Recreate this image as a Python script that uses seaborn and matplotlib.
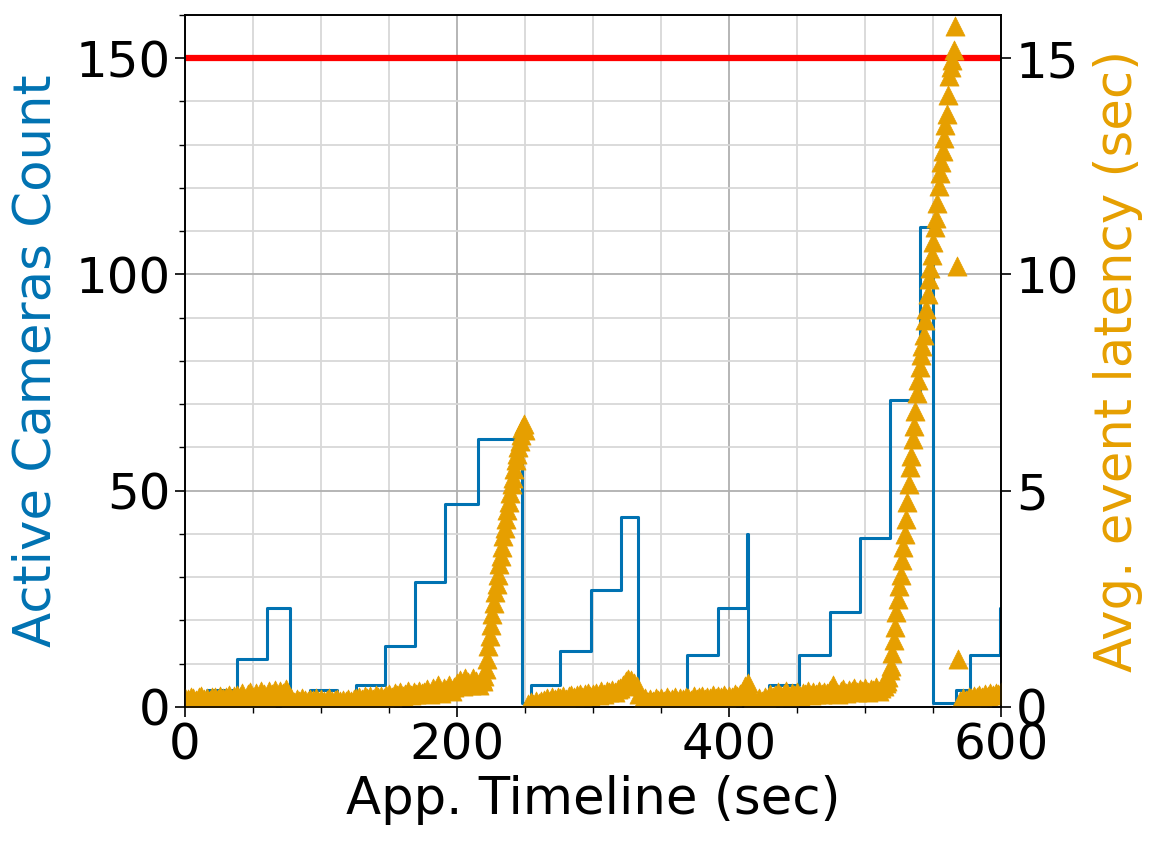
import numpy as np
import pandas as pd
import matplotlib
matplotlib.use("Agg")
import matplotlib.pyplot as plt
import seaborn as sns
from matplotlib.ticker import MultipleLocator

# -------------------------------
# Active cameras (step changes)
# -------------------------------
cam_time = [0, 16, 38, 60, 77, 92, 112, 126, 147, 169, 191, 215, 247.6, 254,
            276, 298.5, 320.5, 333, 369, 391.5, 413, 414, 429, 451, 474, 496,
            518, 540, 550, 567, 577, 599, 600]
cam_count = [1, 4, 11, 23, 1, 4, 1, 5, 14, 29, 47, 62, 1, 5,
             13, 27, 44, 3, 12, 23, 40, 1, 5, 12, 22, 39,
             71, 111, 1, 4, 12, 23, 23]

# -------------------------------
# Avg. event latency samples
# -------------------------------
base1_time = np.arange(0, 219, 2)
base1_lat = [0.2, 0.18, 0.24, 0.2, 0.16, 0.22, 0.25, 0.19, 0.21, 0.17,
             0.24, 0.22, 0.18, 0.26, 0.2, 0.23, 0.27, 0.19, 0.25,
             0.28, 0.22, 0.32, 0.18, 0.3, 0.35, 0.24, 0.33, 0.2, 0.38,
             0.29, 0.15, 0.36, 0.31, 0.4, 0.22, 0.37, 0.33, 0.42, 0.3,
             0.2, 0.12, 0.18, 0.15, 0.2, 0.17, 0.14, 0.19, 0.16, 0.2,
             0.13, 0.18, 0.15, 0.17, 0.2, 0.14, 0.16, 0.18, 0.13, 0.17,
             0.15, 0.19, 0.14, 0.18,
             0.2, 0.24, 0.18, 0.26, 0.21, 0.25, 0.19, 0.27, 0.22, 0.25, 0.2, 0.28,
             0.3, 0.24, 0.33, 0.27, 0.35, 0.26, 0.31, 0.36, 0.28, 0.34, 0.3, 0.37, 0.32,
             0.35, 0.42, 0.3, 0.45, 0.38, 0.5, 0.33, 0.44, 0.4, 0.52, 0.36, 0.47,
             0.55, 0.62, 0.48, 0.66, 0.58, 0.52, 0.68, 0.6, 0.5, 0.64]

spike1_time = np.arange(219, 251)
spike1_lat = [0.6, 0.72, 0.88, 1.1, 1.4, 1.65, 1.9, 2.15, 2.4, 2.65, 2.85,
              3.05, 3.3, 3.5, 3.7, 3.95, 4.15, 4.35, 4.55, 4.75, 4.95, 5.15,
              5.3, 5.5, 5.7, 5.85, 6.0, 6.15, 6.3, 6.45, 6.55, 6.4]

base2_time = np.arange(252, 515, 2)
base2_lat = [0.08, 0.12, 0.06, 0.14, 0.1, 0.15,
             0.16, 0.2, 0.14, 0.22, 0.18, 0.24, 0.2, 0.26, 0.19, 0.25,
             0.28, 0.22, 0.27, 0.3, 0.24, 0.29, 0.32, 0.26, 0.31,
             0.33, 0.28, 0.36, 0.3, 0.38, 0.34, 0.4, 0.35, 0.42,
             0.45, 0.52, 0.6, 0.65, 0.62, 0.55, 0.48,
             0.3, 0.15, 0.2, 0.12, 0.18, 0.14, 0.2,
             0.16, 0.2, 0.14, 0.22, 0.17, 0.19, 0.24, 0.15, 0.21, 0.18,
             0.23, 0.2, 0.16, 0.25, 0.19, 0.22, 0.26, 0.18, 0.24, 0.21,
             0.27, 0.2, 0.25, 0.23, 0.28, 0.21, 0.26, 0.24, 0.29, 0.25,
             0.3, 0.38, 0.48, 0.55,
             0.12, 0.18, 0.1, 0.2, 0.15, 0.22, 0.17,
             0.3, 0.22, 0.28, 0.34, 0.25, 0.3, 0.36, 0.24, 0.32, 0.28,
             0.35, 0.26, 0.33, 0.3, 0.37, 0.27, 0.34, 0.31, 0.38, 0.29, 0.35,
             0.32, 0.4, 0.5, 0.36, 0.3, 0.38, 0.42, 0.33, 0.4, 0.36,
             0.44, 0.34, 0.41, 0.38, 0.45, 0.35, 0.42, 0.4, 0.46, 0.38, 0.44, 0.48]

spike2_time = np.arange(515, 567)
spike2_lat = [0.55, 0.6, 0.7, 0.85, 0.95, 1.25, 1.55, 1.85, 2.2, 2.5,
              2.8, 3.05, 3.4, 3.7, 4.0, 4.35, 4.75, 5.15, 5.55, 5.8,
              6.2, 6.5, 6.85, 7.25, 7.55, 7.85, 8.15, 8.35, 8.6, 8.95,
              9.2, 9.55, 9.9, 10.15, 10.45, 10.75, 11.1, 11.3, 11.65, 12.05,
              12.35, 12.6, 12.85, 13.15, 13.45, 13.7, 14.15, 14.6, 14.8, 14.95,
              15.2, 15.75]

outlier_time = [567.6, 568.2]
outlier_lat = [10.2, 1.1]

base3_time = np.arange(570, 601, 2)
base3_lat = [0.15, 0.2, 0.17, 0.24, 0.2, 0.26, 0.22, 0.28, 0.24, 0.3,
             0.26, 0.32, 0.28, 0.33, 0.3, 0.34]

CAM_COLOR = "#0072B2"
LAT_COLOR = "#E69F00"

lat_df = pd.concat([
    pd.DataFrame({"time": base1_time, "latency": base1_lat}),
    pd.DataFrame({"time": spike1_time, "latency": spike1_lat}),
    pd.DataFrame({"time": base2_time, "latency": base2_lat}),
    pd.DataFrame({"time": spike2_time, "latency": spike2_lat}),
    pd.DataFrame({"time": outlier_time, "latency": outlier_lat}),
    pd.DataFrame({"time": base3_time, "latency": base3_lat}),
], ignore_index=True)
cam_df = pd.DataFrame({"time": cam_time, "count": cam_count})

sns.set_style("ticks")
plt.rcParams["font.family"] = ["DejaVu Sans"]
plt.rcParams["font.size"] = 36
plt.rcParams["text.color"] = "black"
plt.rcParams["axes.labelcolor"] = "black"
plt.rcParams["xtick.color"] = "black"
plt.rcParams["ytick.color"] = "black"

fig = plt.figure(figsize=(11.57, 8.47), dpi=100)
ax = fig.add_axes([0.160, 0.1653, 0.7053, 0.8170])

sns.lineplot(data=cam_df, x="time", y="count", ax=ax, color=CAM_COLOR,
             linewidth=2.2, drawstyle="steps-post", estimator=None, sort=False)
ax.axhline(150, color="red", linewidth=4.5)

ax.set_xlim(0, 600)
ax.set_ylim(0, 160)
ax.xaxis.set_major_locator(MultipleLocator(200))
ax.xaxis.set_minor_locator(MultipleLocator(50))
ax.yaxis.set_major_locator(MultipleLocator(50))
ax.yaxis.set_minor_locator(MultipleLocator(10))
ax.set_axisbelow(True)
ax.grid(which="major", color="#b0b0b0", linewidth=1.3)
ax.grid(which="minor", color="#d8d8d8", linewidth=1.3)
ax.tick_params(which="major", length=7, width=1.2, labelsize=36,
               color="black", labelcolor="black")
ax.tick_params(which="minor", length=4, width=1.0, color="black")
ax.set_xlabel("App. Timeline (sec)", fontsize=37, labelpad=4, color="black")
ax.set_ylabel("Active Cameras Count", fontsize=37, color=CAM_COLOR, labelpad=10)

ax2 = ax.twinx()
sns.scatterplot(data=lat_df, x="time", y="latency", ax=ax2, marker="^",
                s=190, color=LAT_COLOR, edgecolor=LAT_COLOR, linewidth=0.5)
ax2.set_ylim(0, 16)
ax2.set_yticks([0, 5, 10, 15])
ax2.grid(False)
ax2.tick_params(length=7, width=1.2, labelsize=36, color="black", labelcolor="black")
ax2.set_ylabel("Avg. event latency (sec)", fontsize=37, color=LAT_COLOR, labelpad=10)

for a in (ax, ax2):
    for sp in a.spines.values():
        sp.set_color("black")
        sp.set_linewidth(1.2)

fig.savefig("out.png", dpi=100)
